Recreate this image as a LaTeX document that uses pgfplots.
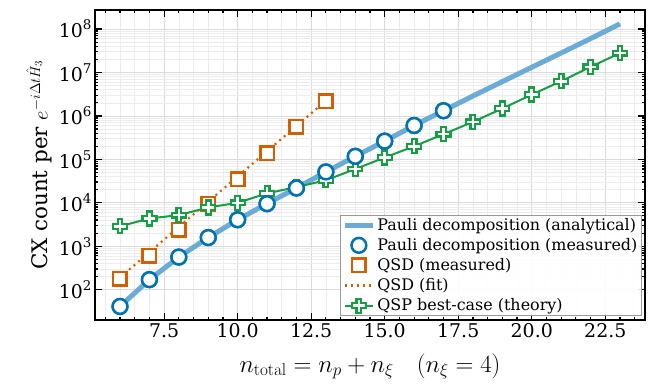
\documentclass[border=0pt]{standalone}
\usepackage{amsmath}
\usepackage[no-math]{fontspec}
\setmainfont{DejaVu Serif}
\usepackage{pgfplots}
\usepackage{pgfplotstable}
\pgfplotsset{compat=1.18}
\DeclareMathSizes{21.5}{21.5}{15.5}{11}
\DeclareMathSizes{23}{23}{16.5}{12}

\definecolor{pblue}{RGB}{1,114,178}
\definecolor{plight}{RGB}{106,172,214}
\definecolor{porange}{RGB}{213,94,0}
\definecolor{pgreen}{RGB}{22,158,68}

\pgfdeclareplotmark{fatplus}{%
  \pgfpathmoveto{\pgfqpoint{-.34\pgfplotmarksize}{\pgfplotmarksize}}%
  \pgfpathlineto{\pgfqpoint{.34\pgfplotmarksize}{\pgfplotmarksize}}%
  \pgfpathlineto{\pgfqpoint{.34\pgfplotmarksize}{.34\pgfplotmarksize}}%
  \pgfpathlineto{\pgfqpoint{\pgfplotmarksize}{.34\pgfplotmarksize}}%
  \pgfpathlineto{\pgfqpoint{\pgfplotmarksize}{-.34\pgfplotmarksize}}%
  \pgfpathlineto{\pgfqpoint{.34\pgfplotmarksize}{-.34\pgfplotmarksize}}%
  \pgfpathlineto{\pgfqpoint{.34\pgfplotmarksize}{-\pgfplotmarksize}}%
  \pgfpathlineto{\pgfqpoint{-.34\pgfplotmarksize}{-\pgfplotmarksize}}%
  \pgfpathlineto{\pgfqpoint{-.34\pgfplotmarksize}{-.34\pgfplotmarksize}}%
  \pgfpathlineto{\pgfqpoint{-\pgfplotmarksize}{-.34\pgfplotmarksize}}%
  \pgfpathlineto{\pgfqpoint{-\pgfplotmarksize}{.34\pgfplotmarksize}}%
  \pgfpathlineto{\pgfqpoint{-.34\pgfplotmarksize}{.34\pgfplotmarksize}}%
  \pgfpathclose
  \pgfusepathqfillstroke
}

\newcommand{\tl}[1]{10\raisebox{0.42em}{\fontsize{13.5}{14}\selectfont #1}}

\pgfplotstableread{
x y
6 41
7 170
8 562
9 1585
10 4074
11 9550
12 21900
13 51300
14 117500
15 263000
16 603000
17 1320000
18 2880000
19 6170000
20 13200000
21 28200000
22 60300000
23 132000000
}\pauliA

\pgfplotstableread{
x y
6 41
7 170
8 562
9 1585
10 4074
11 9550
12 21900
13 51300
14 117500
15 263000
16 603000
17 1320000
}\pauliM

\pgfplotstableread{
x y
6 177
7 610
8 2380
9 9600
10 35000
11 140000
12 560000
13 2200000
}\qsdM

\pgfplotstableread{
x y
6 190
7 726
8 2773
9 10580
10 40340
11 153800
12 586400
13 2240000
}\qsdF

\pgfplotstableread{
x y
6 2880
7 4350
8 5200
9 7800
10 10000
11 16500
12 23000
13 33000
14 60000
15 110000
16 200000
17 380000
18 730000
19 1480000
20 3100000
21 6300000
22 13500000
23 28000000
}\qsp

\pgfplotsset{mylegend/.style={legend image code/.code={%
  \draw[mark repeat=2,mark phase=2] plot coordinates {(0bp,0bp)(14bp,0bp)(28bp,0bp)};}}}

\begin{document}
\begin{tikzpicture}
\useasboundingbox (-95bp,-65bp) rectangle (557bp,320bp);
\begin{axis}[
  at={(0,0)}, anchor=south west,
  scale only axis, width=550bp, height=310bp,
  ymode=log,
  xmin=5.15, xmax=23.85, ymin=20, ymax=2.75e8,
  xtick={7.5,10,12.5,15,17.5,20,22.5},
  xticklabels={7.5,10.0,12.5,15.0,17.5,20.0,22.5},
  minor xtick={5.5,6,...,23.5},
  ytick={1e2,1e3,1e4,1e5,1e6,1e7,1e8},
  yticklabels={\tl{2},\tl{3},\tl{4},\tl{5},\tl{6},\tl{7},\tl{8}},
  tick align=inside,
  xtick pos=both, ytick pos=both,
  major tick length=7bp, minor tick length=3.5bp,
  every tick/.style={black, line width=1.2bp},
  axis line style={line width=1.6bp},
  grid=both,
  major grid style={gray!28, line width=0.8bp},
  minor grid style={gray!15, line width=0.6bp},
  ticklabel style={font=\fontsize{19}{20}\selectfont},
  xlabel={$n_{\mathrm{total}} = n_p + n_\xi \quad (n_\xi = 4)$},
  ylabel={CX count per $e^{-i\Delta t\hat{H}_3}$},
  ylabel style={font=\fontsize{21.5}{24}\selectfont},
  xlabel style={font=\fontsize{23}{25}\selectfont, yshift=-9bp},
  legend cell align=left,
  legend style={at={(1,0)}, anchor=south east, xshift=-3bp, yshift=4bp,
    draw=gray!80, line width=1.2bp, fill=white, fill opacity=0.9, text opacity=1,
    font=\fontsize{16}{17}\selectfont, inner xsep=2bp, inner ysep=1bp,
    row sep=2.5bp},
  mylegend,
]
\addplot[plight, line width=5bp, no marks] table {\pauliA};
\addlegendentry{Pauli decomposition (analytical)}
\addplot[pblue, line width=2.5bp, only marks, mark=*, mark size=7.4bp,
  mark options={fill=white}, mylegend] table {\pauliM};
\addlegendentry{Pauli decomposition (measured)}
\addplot[porange, line width=2.5bp, only marks, mark=square*, mark size=6.75bp,
  mark options={fill=white}, mylegend] table {\qsdM};
\addlegendentry{QSD (measured)}
\addplot[porange, line width=2.2bp, dash pattern=on 2bp off 4bp, no marks] table {\qsdF};
\addlegendentry{QSD (fit)}
\addplot[pgreen, line width=2bp, mark=fatplus, mark size=7bp,
  mark options={fill=white, line width=2.2bp, solid}] table {\qsp};
\addlegendentry{QSP best-case (theory)}
\addplot[pblue, line width=2.5bp, only marks, mark=*, mark size=7.4bp,
  mark options={fill=white}, forget plot] table {\pauliM};
\end{axis}
\end{tikzpicture}
\end{document}
